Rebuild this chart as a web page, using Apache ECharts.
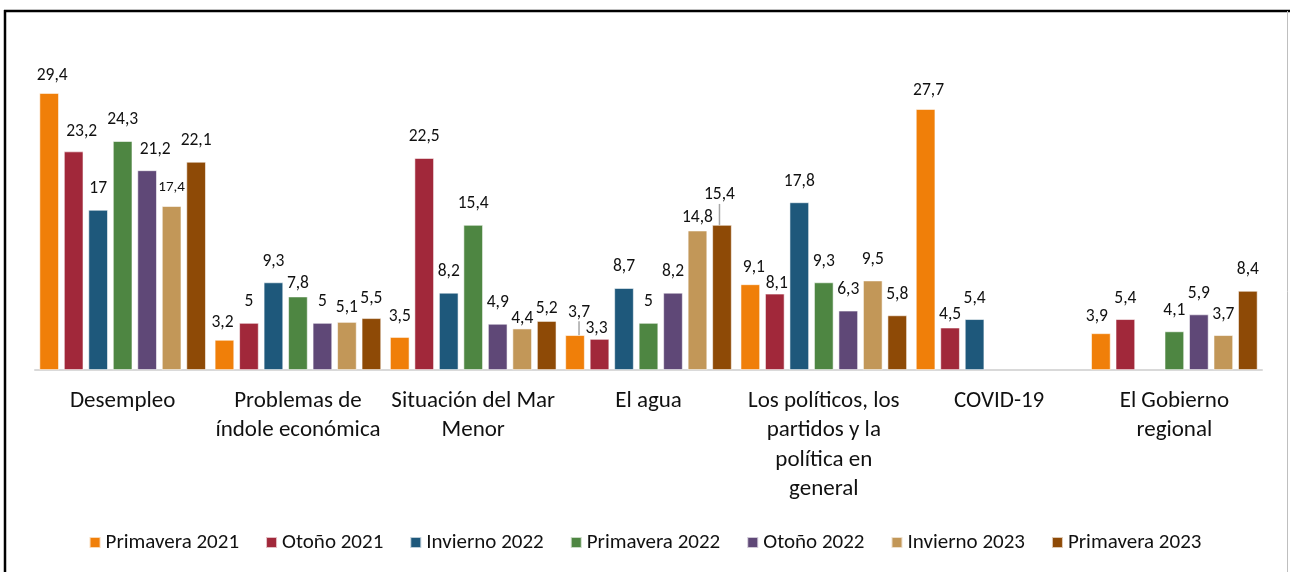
<!DOCTYPE html>
<html><head><meta charset="utf-8">
<script src="https://cdn.jsdelivr.net/npm/echarts@6/dist/echarts.min.js"></script>
<style>html,body{margin:0;padding:0;background:#fff}#c{width:1290px;height:572px}</style>
</head><body><div id="c"></div>
<script>
const categories = ['Desempleo', 'Problemas de\níndole económica', 'Situación del Mar\nMenor', 'El agua',
  'Los políticos, los\npartidos y la\npolítica en\ngeneral', 'COVID-19', 'El Gobierno\nregional'];
const seriesNames = ['Primavera 2021', 'Otoño 2021', 'Invierno 2022', 'Primavera 2022', 'Otoño 2022', 'Invierno 2023', 'Primavera 2023'];
const primavera2021 = [29.4, 3.2, 3.5, 3.7, 9.1, 27.7, 3.9];
const otono2021     = [23.2, 5, 22.5, 3.3, 8.1, 4.5, 5.4];
const invierno2022  = [17, 9.3, 8.2, 8.7, 17.8, 5.4, null];
const primavera2022 = [24.3, 7.8, 15.4, 5, 9.3, null, 4.1];
const otono2022     = [21.2, 5, 4.9, 8.2, 6.3, null, 5.9];
const invierno2023  = [17.4, 5.1, 4.4, 14.8, 9.5, null, 3.7];
const primavera2023 = [22.1, 5.5, 5.2, 15.4, 5.8, null, 8.4];
const seriesValues = [primavera2021, otono2021, invierno2022, primavera2022, otono2022, invierno2023, primavera2023];
const colors = ['#F07F09', '#A1283A', '#1E587B', '#4E8642', '#5F4877', '#C29758', '#8E4A06'];

// label nudges keyed "series-category": [dx, dy, fontSize]
const labelNudges = {
  '0-0': [3, 4], '1-0': [8, 1], '4-0': [8, 0], '5-0': [0, 1, 15],
  '0-1': [-2, 4], '3-1': [0, 8], '5-1': [0, 7], '6-1': [0, 1],
  '0-2': [0, 1], '5-2': [0, 11], '6-2': [0, 9],
  '0-3': [4, -2], '1-3': [-3, 11], '5-3': [0, 8], '6-3': [-2.5, -9],
  '0-4': [3.5, 4], '1-4': [2, 11],
  '0-5': [3, 3], '1-5': [0, 8],
  '0-6': [-4, 4]
};
const leaderLines = ['0-3', '6-3'];

const FONT = 'Carlito, Lato, sans-serif';
const fmt = v => String(v).replace('.', ',');

const chart = echarts.init(document.getElementById('c'), null, {renderer: 'canvas'});
const series = seriesValues.map((vals, s) => ({
  name: seriesNames[s],
  type: 'bar',
  barWidth: 19.5,
  barGap: '25.6%',
  itemStyle: {color: colors[s], borderColor: 'rgba(255,255,255,0.7)', borderWidth: 0.8},
  label: {
    show: true, position: 'top', distance: 12,
    fontFamily: FONT, fontSize: 17.5, color: '#111',
    formatter: p => fmt(p.value)
  },
  labelLine: {show: false},
  labelLayout: p => {
    const n = labelNudges[s + '-' + p.dataIndex];
    if (!n) return {};
    const o = {dx: n[0], dy: n[1]};
    if (n[2]) o.fontSize = n[2];
    return o;
  },
  data: vals.map((v, c) => leaderLines.includes(s + '-' + c)
    ? {value: v, labelLine: {show: true, lineStyle: {color: '#a6a6a6', width: 1.5}}}
    : v)
}));

chart.setOption({
  animation: false,
  backgroundColor: '#fff',
  grid: {left: 35, right: 28, top: 87.4, bottom: 202, containLabel: false},
  xAxis: {
    type: 'category', data: categories,
    axisLine: {lineStyle: {color: '#d9d9d9', width: 2}},
    axisTick: {show: false},
    axisLabel: {interval: 0, margin: 16, fontFamily: FONT, fontSize: 23, lineHeight: 29.5, color: '#111'}
  },
  yAxis: {type: 'value', min: 0, max: 30, show: false, splitLine: {show: false}},
  legend: {
    data: seriesNames, top: 527, left: 'center', icon: 'rect',
    itemWidth: 11, itemHeight: 11, itemGap: 26,
    textStyle: {fontFamily: FONT, fontSize: 21, color: '#111'}
  },
  graphic: [
    {type: 'line', shape: {x1: 4, y1: 11, x2: 1290, y2: 11}, style: {stroke: '#000', lineWidth: 2.5}, silent: true},
    {type: 'line', shape: {x1: 5, y1: 10, x2: 5, y2: 572}, style: {stroke: '#000', lineWidth: 2.5}, silent: true},
    {type: 'line', shape: {x1: 1287.5, y1: 11, x2: 1287.5, y2: 572}, style: {stroke: '#bfbfbf', lineWidth: 1}, silent: true}
  ],
  series: series
});
</script></body></html>
